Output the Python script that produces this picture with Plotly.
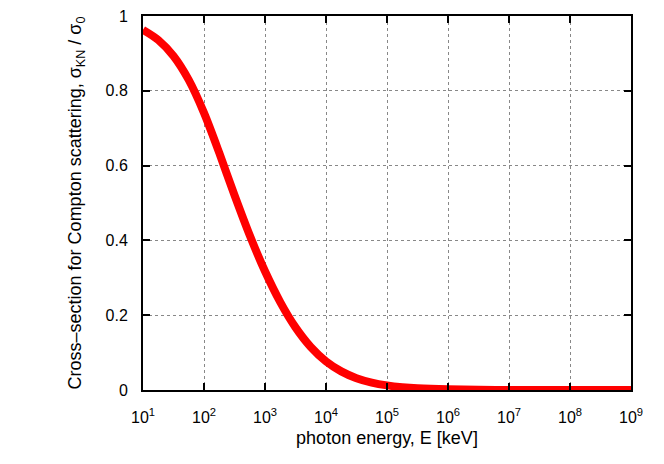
import plotly.graph_objects as go

# photon energy (keV) and Klein-Nishina cross-section ratio
energy_kev = [10, 17.8, 31.6, 56.2, 100, 178, 316, 562, 1000, 1778, 3162, 5623,
              10000, 17783, 31623, 56234, 100000, 177828, 316228, 1e6, 3.16e6, 1e7, 1e8, 1e9]
sigma_ratio = [0.963, 0.936, 0.893, 0.829, 0.741, 0.634, 0.521, 0.4136, 0.3175, 0.2351, 0.1675, 0.1151,
               0.0767, 0.0498, 0.0317, 0.0199, 0.0123, 0.00757, 0.0046, 0.00168, 0.0006, 0.00021, 0.000026, 0.000003]

x_tick_vals = [1e1, 1e2, 1e3, 1e4, 1e5, 1e6, 1e7, 1e8, 1e9]
x_tick_text = ["10<sup>1</sup>", "10<sup>2</sup>", "10<sup>3</sup>", "10<sup>4</sup>", "10<sup>5</sup>",
               "10<sup>6</sup>", "10<sup>7</sup>", "10<sup>8</sup>", "10<sup>9</sup>"]
y_tick_vals = [0, 0.2, 0.4, 0.6, 0.8, 1]
y_tick_text = ["0", "0.2", "0.4", "0.6", "0.8", "1"]

FONT = "Liberation Sans, Arial, Helvetica, sans-serif"

fig = go.Figure()
fig.add_trace(go.Scatter(
    x=energy_kev, y=sigma_ratio, mode="lines",
    line=dict(color="#ff0000", width=8, shape="spline", smoothing=0.8),
    showlegend=False, hoverinfo="x+y",
))

axis_common = dict(
    showline=True, linecolor="black", linewidth=2, mirror="allticks",
    ticks="inside", ticklen=7, tickwidth=2, tickcolor="black",
    showgrid=True, gridcolor="#888888", gridwidth=1, griddash="dot",
    zeroline=False, automargin=False,
    tickfont=dict(family=FONT, size=16, color="black"),
)

fig.update_layout(
    width=664, height=464,
    margin=dict(l=143, r=33, t=16, b=74),
    paper_bgcolor="white", plot_bgcolor="white",
    font=dict(family=FONT, color="black"),
    xaxis=dict(
        type="log", range=[1, 9],
        tickvals=x_tick_vals, ticktext=x_tick_text,
        ticklabelstandoff=12,
        title=dict(text="photon energy, E [keV]", font=dict(family=FONT, size=18), standoff=6),
        **axis_common,
    ),
    yaxis=dict(
        range=[0, 1],
        tickvals=y_tick_vals, ticktext=y_tick_text,
        ticklabelstandoff=10,
        title=dict(text="Cross–section for Compton scattering, σ<sub>KN</sub> / σ<sub>0</sub>",
                   font=dict(family=FONT, size=18), standoff=19),
        **axis_common,
    ),
)

fig.write_html("out.html", config={"displayModeBar": False},
               post_script="document.body.style.margin='0';document.body.style.padding='0';")
